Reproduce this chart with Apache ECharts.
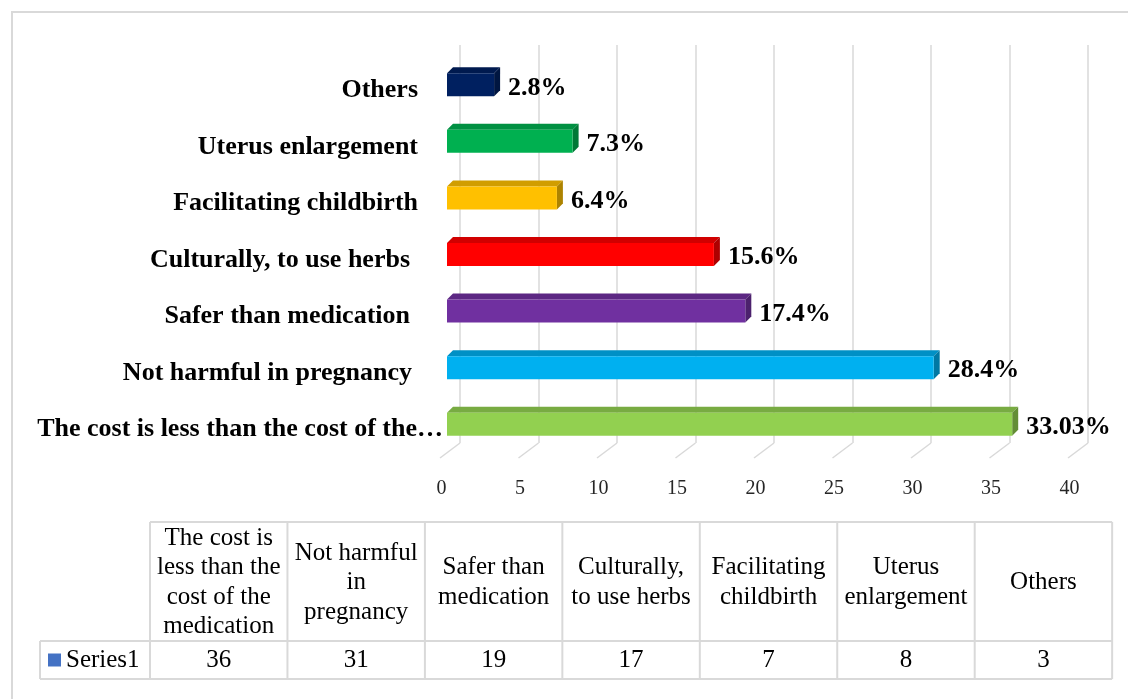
<!DOCTYPE html>
<html><head><meta charset="utf-8">
<script src="https://cdn.jsdelivr.net/npm/echarts@6/dist/echarts.min.js"></script>
<style>html,body{margin:0;padding:0;background:#fff}#c{width:1128px;height:699px}</style>
</head><body><div id="c"></div>
<script>
// ---- data ----
const categories = ['The cost is less than the cost of the medication', 'Not harmful in pregnancy', 'Safer than medication', 'Culturally, to use herbs', 'Facilitating childbirth', 'Uterus enlargement', 'Others'];
const counts = [36, 31, 19, 17, 7, 8, 3];
const percentLabels = ['33.03%', '28.4%', '17.4%', '15.6%', '6.4%', '7.3%', '2.8%'];
const xTicks = [0, 5, 10, 15, 20, 25, 30, 35, 40];
const seriesName = 'Series1';

// ---- styles ----
const barColors = ['#92d050', '#00b0f0', '#7030a0', '#ff0000', '#ffc000', '#00b050', '#002060'];
const labelGap = [0, 31, 33, 33, 25, 25, 25];
const FONT = '"Liberation Serif", "Times New Roman", serif';
const GRID = '#d9d9d9';

function shade(hex, f) {
  const n = parseInt(hex.slice(1), 16);
  const r = Math.round(((n >> 16) & 255) * f), g = Math.round(((n >> 8) & 255) * f), b = Math.round((n & 255) * f);
  return 'rgb(' + r + ',' + g + ',' + b + ')';
}

const chart = echarts.init(document.getElementById('c'), null, {renderer: 'canvas'});

const catFont = 'bold 26px ' + FONT;
function truncate(t) {
  let s = t;
  try { s = echarts.format.truncateText(t, 412, catFont, '…'); } catch (e) {}
  return s.replace(/\s+…$/, '…');
}
const rich = {};
labelGap.forEach((g, i) => {
  rich['g' + i] = {fontFamily: FONT, fontWeight: 'bold', fontSize: 26, color: '#000', padding: [0, g, 0, 0]};
});

// word wrap for table header cells
const mctx = document.createElement('canvas').getContext('2d');
mctx.font = '25px ' + FONT;
function wrap(t, w) {
  const words = t.split(' ');
  const lines = [];
  let cur = '';
  words.forEach(word => {
    const test = cur ? cur + ' ' + word : word;
    if (!cur || mctx.measureText(test).width <= w) cur = test;
    else { lines.push(cur); cur = word; }
  });
  lines.push(cur);
  return lines.join('\n');
}

// ---- table layout ----
const tTop = 522, tMid = 641, tBot = 679, keyLeft = 40, col0 = 150, colW = 137.45;
const n = categories.length;
const line = (x1, y1, x2, y2) => ({type: 'line', shape: {x1, y1, x2, y2}, style: {stroke: GRID, lineWidth: 2}, silent: true});
const graphics = [
  {type: 'rect', shape: {x: 12, y: 12, width: 1140, height: 720}, style: {fill: 'none', stroke: GRID, lineWidth: 2}, silent: true},
  line(col0, tTop, col0 + colW * n, tTop),
  line(keyLeft, tMid, col0 + colW * n, tMid),
  line(keyLeft, tBot, col0 + colW * n, tBot),
  line(keyLeft, tMid, keyLeft, tBot)
];
for (let i = 0; i <= n; i++) graphics.push(line(col0 + colW * i, tTop, col0 + colW * i, tBot));

function tableText(text, x, y, extra) {
  return {type: 'text', x, y, style: Object.assign({text, fontFamily: FONT, fontSize: 25, fontWeight: 'normal', fill: '#000',
    align: 'center', textAlign: 'center', verticalAlign: 'middle', textVerticalAlign: 'middle'}, extra || {})};
}

const option = {
  animation: false,
  backgroundColor: '#fff',
  grid: [
    {left: 447, width: 628, top: 62, height: 396, outerBoundsMode: 'none', containLabel: false},
    {left: 460, width: 628, top: 45, height: 398, outerBoundsMode: 'none', containLabel: false},
    {left: 441.5, width: 628, top: 457, height: 1, outerBoundsMode: 'none', containLabel: false}
  ],
  xAxis: [
    {gridIndex: 0, type: 'value', min: 0, max: 40, interval: 5, show: false},
    {gridIndex: 1, type: 'value', min: 0, max: 40, interval: 5, axisLine: {show: false}, axisTick: {show: false}, axisLabel: {show: false},
      splitLine: {show: true, lineStyle: {color: GRID, width: 1.5}}},
    {gridIndex: 2, type: 'value', min: 0, max: 40, interval: 5, axisLine: {show: false}, axisTick: {show: false}, splitLine: {show: false},
      axisLabel: {show: true, margin: 21, fontFamily: FONT, fontSize: 20, color: '#262626',
        formatter: v => xTicks.indexOf(v) >= 0 ? String(v) : ''}}
  ],
  yAxis: [
    {gridIndex: 0, type: 'category', data: categories, axisLine: {show: false}, axisTick: {show: false}, splitLine: {show: false},
      axisLabel: {show: true, margin: 4, interval: 0, fontFamily: FONT, fontWeight: 'bold', fontSize: 26, color: '#000', rich,
        formatter: (v, i) => '{g' + i + '|' + (i === 0 ? truncate(v) : v) + '}'}},
    {gridIndex: 1, type: 'value', min: 0, max: 1, show: false},
    {gridIndex: 2, type: 'value', min: 0, max: 1, show: false}
  ],
  graphic: {elements: graphics},
  series: [
    {
      type: 'custom', name: 'floor', xAxisIndex: 1, yAxisIndex: 1, silent: true, clip: false, z: 1,
      data: xTicks.map(v => [v, 0]),
      renderItem: (params, api) => {
        const p = api.coord([api.value(0), 0]);
        return {type: 'line', shape: {x1: p[0], y1: p[1], x2: p[0] - 20, y2: p[1] + 15}, style: {stroke: GRID, lineWidth: 1.5}};
      }
    },
    {
      type: 'custom', name: seriesName, xAxisIndex: 0, yAxisIndex: 0, clip: false, z: 3,
      data: counts.map((v, i) => [v, i]),
      encode: {x: 0, y: 1},
      renderItem: (params, api) => {
        const v = api.value(0), c = api.value(1);
        const p0 = api.coord([0, c]), p1 = api.coord([v, c]);
        const yc = p0[1], top = yc - 17, bot = yc + 6, d = 6;
        const x0 = p0[0], x1 = p1[0];
        const col = barColors[params.dataIndex];
        return {type: 'group', children: [
          {type: 'polygon', shape: {points: [[x0, top], [x0 + d, top - d], [x1 + d, top - d], [x1, top]]}, style: {fill: shade(col, 0.82)}},
          {type: 'polygon', shape: {points: [[x1, top], [x1 + d, top - d], [x1 + d, bot - d], [x1, bot]]}, style: {fill: shade(col, 0.68)}},
          {type: 'rect', shape: {x: x0, y: top, width: x1 - x0, height: bot - top}, style: {fill: col}},
          {type: 'text', x: x1 + 14, y: yc - 2.5, style: {text: percentLabels[params.dataIndex], fontFamily: FONT, fontWeight: 'bold', fontSize: 26, fill: '#000',
            align: 'left', textAlign: 'left', verticalAlign: 'middle', textVerticalAlign: 'middle'}}
        ]};
      }
    },
    {
      type: 'custom', name: 'table', coordinateSystem: 'none', silent: true, z: 4,
      data: counts.map((v, i) => [i, v]),
      renderItem: (params, api) => {
        const i = api.value(0);
        const cx = col0 + colW * (i + 0.5);
        const children = [
          tableText(wrap(categories[i], 127), cx, (tTop + tMid) / 2 + 1, {lineHeight: 29.5}),
          tableText(String(api.value(1)), cx, (tMid + tBot) / 2)
        ];
        if (i === 0) {
          children.push({type: 'rect', shape: {x: 48, y: 653.5, width: 13, height: 13}, style: {fill: '#4472c4'}});
          children.push(tableText(seriesName, 66, (tMid + tBot) / 2, {align: 'left', textAlign: 'left'}));
        }
        return {type: 'group', children};
      }
    }
  ]
};
chart.setOption(option);
</script>
</body></html>
